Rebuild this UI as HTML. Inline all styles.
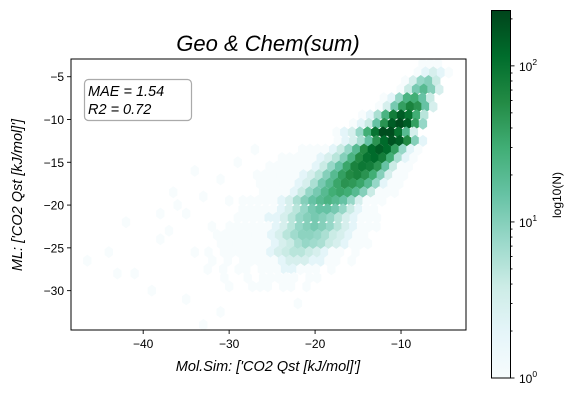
<!DOCTYPE html>
<html><head><meta charset="utf-8">
<style>
body{margin:0;background:#fff;}
svg{display:block;font-family:"Liberation Sans","DejaVu Sans",sans-serif;}
</style></head>
<body>
<svg id="chart" width="574" height="400" viewBox="0 0 574 400" xmlns="http://www.w3.org/2000/svg">
<defs>
<linearGradient id="cbgrad" x1="0" y1="1" x2="0" y2="0">
<stop offset="0" stop-color="#f7fcfd"/><stop offset="0.125" stop-color="#e5f5f9"/><stop offset="0.25" stop-color="#ccece6"/><stop offset="0.375" stop-color="#99d8c9"/><stop offset="0.5" stop-color="#66c2a4"/><stop offset="0.625" stop-color="#41ae76"/><stop offset="0.75" stop-color="#238b45"/><stop offset="0.875" stop-color="#006d2c"/><stop offset="1" stop-color="#00441b"/>
</linearGradient>
<clipPath id="plotclip"><rect x="71" y="59" width="395" height="271"/></clipPath>
</defs>
<g id="hexes" clip-path="url(#plotclip)"></g>
<rect x="71" y="59" width="395" height="271" fill="none" stroke="#000" stroke-width="1"/>
<g id="xticks"></g>
<g id="yticks"></g>
<text x="268" y="51" font-size="22" font-style="italic" text-anchor="middle">Geo &amp; Chem(sum)</text>
<text x="268" y="371" font-size="14.5" font-style="italic" text-anchor="middle">Mol.Sim: ['CO2 Qst [kJ/mol]']</text>
<text transform="translate(22,195) rotate(-90)" font-size="14.5" font-style="italic" text-anchor="middle">ML: ['CO2 Qst [kJ/mol]']</text>
<g>
<rect x="84.5" y="79.5" width="107" height="41" rx="4" fill="#fff" stroke="#aaa" stroke-width="1.2"/>
<text x="88" y="96" font-size="14.5" font-style="italic">MAE = 1.54</text>
<text x="88" y="114" font-size="14.5" font-style="italic">R2 = 0.72</text>
</g>
<rect x="491.5" y="10.5" width="19" height="367.5" fill="url(#cbgrad)" stroke="#000" stroke-width="1"/>
<g id="cbticks"></g>
<text transform="translate(561,195) rotate(-90)" font-size="12" text-anchor="middle">log10(N)</text>
</svg>
<script>
// axis data
const xTickValues = [-40, -30, -20, -10];
const yTickValues = [-5, -10, -15, -20, -25, -30];
const cbTickExps = [0, 1, 2];
// hexbin data: each row has y, start x, and counts along x (step 0.9)
const rowY = [-3.5,-4.5,-5.5,-6.5,-7.5,-8.5,-9.5,-10.5,-11.5,-12.5,-13.5,-14.5,-15.5,-16.5,-17.5,-18.5,-19.5,-20.5,-21.5,-22.5,-23.5,-24.5,-25.5,-26.5,-27.5,-28.5,-29.5];
const rowX0 = [-7.5,-8.5,-9.5,-10.5,-12,-13,-14.5,-16,-17.5,-17.8,-21.5,-24.3,-25.3,-27.2,-26.4,-26.5,-28.4,-28.9,-29,-30.4,-31.4,-31.4,-32.4,-32.4,-32.5,-31,-30];
const rowCounts = [
[1,1,1],
[1,2,3,2,1],
[1,3,8,10,4],
[1,4,12,20,10,3],
[1,2,8,25,30,15,4],
[1,3,12,40,70,50,15,3],
[1,2,6,25,80,150,100,30,5],
[1,2,4,15,50,150,200,150,40,8],
[1,2,3,8,30,100,200,200,100,20,3],
[1,2,3,6,15,50,120,180,150,60,10,2],
[1,1,1,1,2,4,8,20,60,120,150,120,40,8,2,1],
[1,1,1,1,1,2,3,5,10,25,60,100,120,80,30,6,2,1],
[1,1,1,1,1,1,2,4,8,15,35,70,90,80,50,15,4,1,1],
[1,1,1,1,1,1,2,3,5,10,20,40,60,70,50,30,10,3,1,1],
[1,1,1,1,1,2,3,6,12,20,35,50,45,35,20,8,2,1,1],
[1,1,1,1,2,4,8,12,20,30,35,30,20,10,4,1,1,1],
[1,1,1,1,1,2,3,6,10,15,20,25,20,15,8,3,1,1,1],
[1,1,1,1,1,2,3,5,8,12,15,15,12,8,4,2,1,1],
[1,1,1,1,2,2,3,5,8,10,12,10,8,5,3,2,1,1,1],
[1,1,1,1,1,1,2,3,5,8,10,12,10,8,5,3,2,1,1,1],
[1,1,1,1,1,1,1,2,3,5,7,9,9,8,6,4,3,2,1,1],
[1,1,1,1,1,1,1,2,3,4,6,8,7,6,4,3,2,1,1,1],
[1,0,1,1,1,1,1,1,2,3,4,5,5,4,3,2,1,1,0,1],
[1,0,1,0,1,1,1,1,1,2,3,3,3,2,2,1,1,0,1],
[1,0,1,0,1,1,0,1,1,1,2,2,1,1,1,0,1],
[1,0,0,1,0,1,1,1,1,1,0,1,1],
[1,0,0,1,1,1,0,1,1,0,1]
];
// isolated outlier cells
const outX = [-46.5,-44,-42,-38,-36.5,-43,-41,-31,-27,-34,-36,-39,-35,-33,-22,-37,-33,-31,-29,-35,-38,-32,-30,-34];
const outY = [-26.5,-25.5,-22,-21,-18.5,-28,-28,-32.5,-13.5,-16,-20,-30,-31,-34,-31.5,-23,-19,-17,-15,-21,-24,-22.5,-19.5,-25.5];
const outC = [1,1,1,1,1,1,1,1,1,1,1,1,1,1,1,1,1,1,1,1,1,1,1,1];

const NS="http://www.w3.org/2000/svg";
const X0=71,X1=466,Y0=59,Y1=330;
const XMIN=-48.4,XMAX=-2.44,YMIN=-34.6,YMAX=-2.93;
function sx(v){return X0+(v-XMIN)/(XMAX-XMIN)*(X1-X0);}
function sy(v){return Y1-(v-YMIN)/(YMAX-YMIN)*(Y1-Y0);}
const CMAX=228, CBTOP=10, CBBOT=378;
function cy(c){return CBBOT-Math.log10(c)/Math.log10(CMAX)*(CBBOT-CBTOP);}
const stops=[[247,252,253],[229,245,249],[204,236,230],[153,216,201],[102,194,164],[65,174,118],[35,139,69],[0,109,44],[0,68,27]];
function color(c){
  let t=Math.min(1,Math.max(0,Math.log10(c)/Math.log10(CMAX)))*8;
  let i=Math.min(7,Math.floor(t)),f=t-i;
  const a=stops[i],b=stops[i+1];
  return `rgb(${Math.round(a[0]+(b[0]-a[0])*f)},${Math.round(a[1]+(b[1]-a[1])*f)},${Math.round(a[2]+(b[2]-a[2])*f)})`;
}
const HX=0.9, HY=1.0;
const g=document.getElementById('hexes');
function hex(x,y,c){
  if(c<=0) return;
  const cx=sx(x),cyy=sy(y);
  const hw=(sx(HX)-sx(0))/2+0.3, hh=(sy(0)-sy(HY))*2/3+0.3;
  const pts=[[hw,-hh/2],[hw,hh/2],[0,hh],[-hw,hh/2],[-hw,-hh/2],[0,-hh]].map(p=>(cx+p[0]).toFixed(2)+','+(cyy+p[1]).toFixed(2)).join(' ');
  const p=document.createElementNS(NS,'polygon');
  p.setAttribute('points',pts);
  p.setAttribute('fill',color(c));
  
  
  g.appendChild(p);
}
rowY.forEach((y,r)=>{
  const off=(r%2)*HX/2;
  rowCounts[r].forEach((c,i)=>hex(rowX0[r]+off+i*HX,y,c));
});
outX.forEach((x,i)=>hex(x,outY[i],outC[i]));

function line(parent,x1,y1,x2,y2,name){
  const l=document.createElementNS(NS,'line');
  l.setAttribute('x1',x1);l.setAttribute('y1',y1);l.setAttribute('x2',x2);l.setAttribute('y2',y2);
  l.setAttribute('stroke','#000');l.setAttribute('stroke-width','0.9');
  
  
  parent.appendChild(l);
}
function text(parent,x,y,s,anchor,name,size){
  const t=document.createElementNS(NS,'text');
  t.setAttribute('x',x);t.setAttribute('y',y);t.setAttribute('text-anchor',anchor);
  t.setAttribute('font-size',size||12);
  t.textContent=s;
  
  
  parent.appendChild(t);
  return t;
}
const xg=document.getElementById('xticks');
xTickValues.forEach(v=>{const x=sx(v);line(xg,x,330,x,334,'x-tick');text(xg,x,348,'\u2212'+Math.abs(v),'middle','x-tick-label');});
const yg=document.getElementById('yticks');
yTickValues.forEach(v=>{const y=sy(v);line(yg,67,y,71,y,'y-tick');text(yg,64,y+4.5,'\u2212'+Math.abs(v),'end','y-tick-label');});
const cg=document.getElementById('cbticks');
cbTickExps.forEach(e=>{
  const y=cy(Math.pow(10,e));
  line(cg,510.5,y,514.5,y,'colorbar-tick');
  const t=text(cg,519,y+5,'10','start','colorbar-tick-label',12);
  const s=document.createElementNS(NS,'tspan');
  s.setAttribute('dy','-6');s.setAttribute('font-size','8.5');s.textContent=String(e);
  t.appendChild(s);
});
for(let e=0;e<=2;e++){for(let m=2;m<=9;m++){const c=m*Math.pow(10,e);if(c>CMAX)break;const y=cy(c);line(cg,510.5,y,512.5,y,'colorbar-minor-tick');}}
</script>
</body></html>
